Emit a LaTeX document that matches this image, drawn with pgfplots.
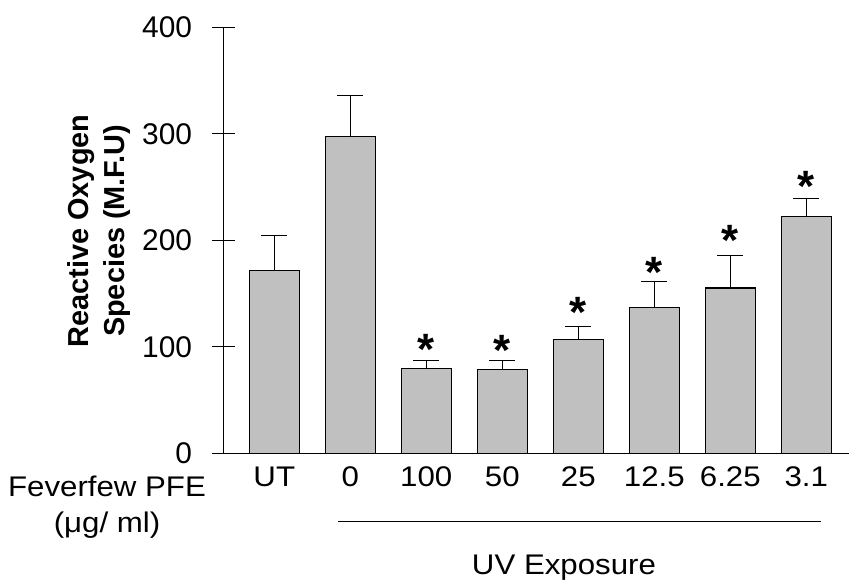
\documentclass[border=0pt]{standalone}
\usepackage{fontspec}
\setmainfont{Liberation Sans}
\newfontfamily\xfont{Liberation Sans}[FakeStretch=1.1]
\usepackage{pgfplots}
\pgfplotsset{compat=1.18}
\definecolor{barg}{RGB}{192,192,192}
\begin{document}
\begin{tikzpicture}[x=1bp,y=1bp]
\useasboundingbox (0,0) rectangle (849,-581);
\begin{axis}[
  at={(223.3bp,-453.3bp)}, anchor=south west,
  scale only axis, width=625.7bp, height=426bp,
  xmin=-0.671, xmax=7.562, ymin=0, ymax=400,
  axis x line=bottom, axis y line=left,
  axis line style={-, line width=1.2bp},
  x axis line style={shorten <=-11.3bp},
  xtick=data, xticklabels={UT,0,100,50,25,12.5,6.25,3.1},
  x tick style={draw=none},
  ytick={0,100,200,300,400},
  y tick style={line width=1.2bp, black},
  tick align=center, major tick length=23.4bp,
  /pgf/number format/assume math mode=true,
  yticklabel style={font=\fontsize{30}{36}\selectfont, anchor=east, xshift=-16bp},
  xticklabel style={font=\xfont\fontsize{28.5}{35}\selectfont, anchor=north, yshift=2bp},
  clip=false,
]
\addplot[ybar, bar width=50bp, fill=barg, draw=black, line width=1.2bp,
  error bars/.cd, y dir=plus, y explicit,
  error mark=|, error mark options={line width=1.2bp, mark size=13bp},
  error bar style={line width=1.2bp}]
  coordinates {
  (0,171.8) +- (0,32.9)
  (1,297.7) +- (0,38.5)
  (2,79.8) +- (0,7.5)
  (3,78.9) +- (0,8.4)
  (4,107.0) +- (0,12.2)
  (5,137.1) +- (0,24.4)
  (6,155.2) +- (0,30.7)
  (7,222.5) +- (0,16.9)
  };
\addplot[draw=none, mark=none, nodes near coords={\bfseries *},
  every node near coord/.style={font=\fontsize{44}{50}\selectfont, anchor=base, yshift=-21bp, inner sep=0pt}]
  coordinates {(2,103.3) (3,101.7) (4,138.3) (5,175.3) (6,205.4) (7,255.8)};
\end{axis}
\node[font=\fontsize{29}{36}\selectfont\bfseries, rotate=90, align=center] at (99,-231) {Reactive Oxygen\\Species (M.F.U)};
\node[font=\xfont\fontsize{28.5}{36}\selectfont, align=center] at (107,-507) {Feverfew PFE\\(μg/ ml)};
\draw[line width=1bp] (338.3,-521.7) -- (821,-521.7);
\node[font=\xfont\fontsize{28.5}{35}\selectfont, anchor=base] at (564,-574.3) {UV Exposure};
\end{tikzpicture}
\end{document}
